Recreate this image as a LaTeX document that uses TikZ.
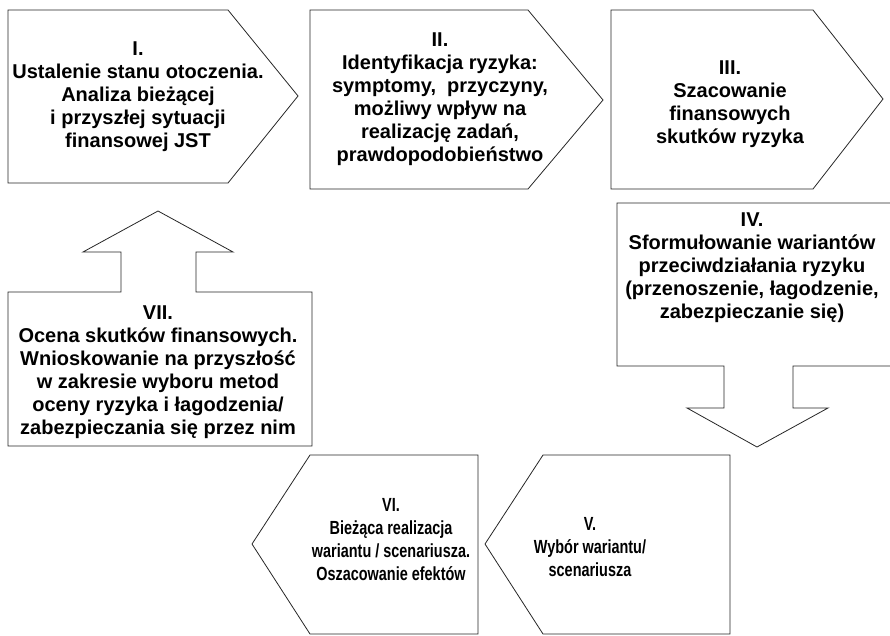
\documentclass[tikz,border=0pt]{standalone}
\usepackage{fontspec}
\setmainfont{Liberation Sans}
\newfontfamily\waskifont[FakeStretch=0.76]{Liberation Sans}
\tikzset{
  ramka/.style={draw=black!85, line width=0.8pt},
  opis/.style={align=center, text=black, font=\bfseries\fontsize{20}{23}\selectfont},
  opiswaski/.style={align=center, text=black, font=\waskifont\bfseries\fontsize{19}{23}\selectfont}
}
\begin{document}
\begin{tikzpicture}[x=1pt,y=-1pt]
         \useasboundingbox (0,0) rectangle (890,636);
         %ksztalty
         \draw[ramka] (8,10) -- (228,10) -- (298,96) -- (228,183) -- (8,183) -- cycle;
         \draw[ramka] (310,10) -- (528,10) -- (603,100) -- (528,189) -- (310,189) -- cycle;
         \draw[ramka] (611,10) -- (813,10) -- (883,99) -- (813,189) -- (611,189) -- cycle;
         \draw[ramka] (617,203) -- (895,203) -- (895,366) -- (793,366) -- (793,408) -- (828,408)
            -- (757,447) -- (687,408) -- (724,408) -- (724,366) -- (617,366) -- cycle;
         \draw[ramka] (543,455) -- (730,455) -- (730,634) -- (543,634) -- (485,544) -- cycle;
         \draw[ramka] (310,455) -- (478,455) -- (478,634) -- (310,634) -- (252,544) -- cycle;
         \draw[ramka] (8,446) -- (312,446) -- (312,292) -- (196,292) -- (196,252) -- (233,252)
            -- (158,211) -- (83,252) -- (121,252) -- (121,292) -- (8,292) -- cycle;
         %opisy
         \node[opis] (etapI) at (138,97) {I.\\Ustalenie stanu otoczenia.\\Analiza bieżącej\\i przyszłej sytuacji\\finansowej JST};
         \node[opis] (etapII) at (440,99) {II.\\Identyfikacja ryzyka:\\symptomy,~ przyczyny,\\możliwy wpływ na\\realizację zadań,\\prawdopodobieństwo};
         \node[opis] (etapIII) at (730,104) {III.\\Szacowanie\\finansowych\\skutków ryzyka};
         \node[opis] (etapIV) at (752,268) {IV.\\Sformułowanie wariantów\\przeciwdziałania ryzyku\\(przenoszenie, łagodzenie,\\zabezpieczanie się)};
         \node[opiswaski] (etapV) at (590,547) {V.\\Wybór wariantu/\\scenariusza};
         \node[opiswaski] (etapVI) at (391,540) {VI.\\Bieżąca realizacja\\wariantu / scenariusza.\\Oszacowanie efektów};
         \node[opis] (etapVII) at (158,372) {VII.\\Ocena skutków finansowych.\\Wnioskowanie na przyszłość\\w zakresie wyboru metod\\oceny ryzyka i łagodzenia/\\zabezpieczania się przez nim};
      \end{tikzpicture}
\end{document}
